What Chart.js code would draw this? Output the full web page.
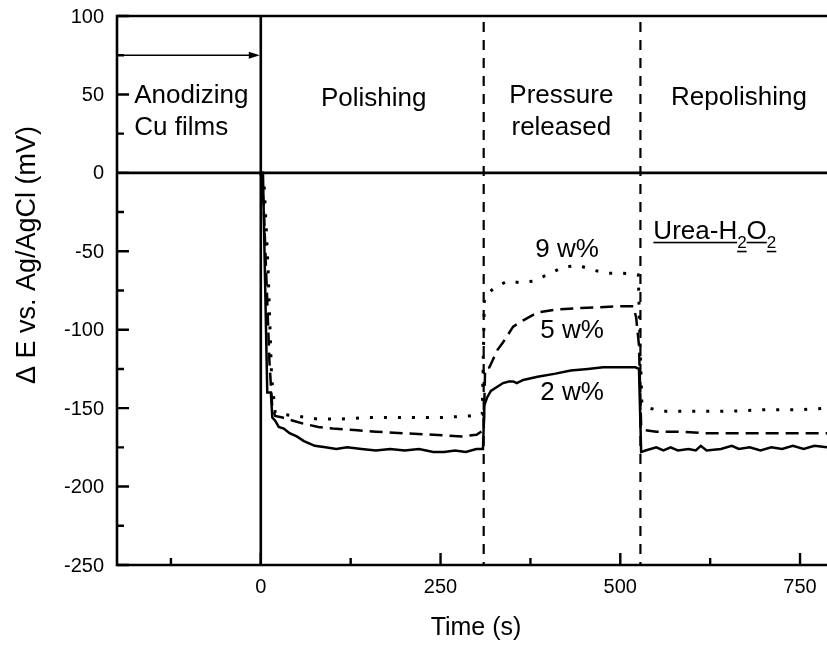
<!DOCTYPE html>
<html>
<head>
<meta charset="utf-8">
<script src="https://cdn.jsdelivr.net/npm/chart.js@4.4.0/dist/chart.umd.min.js"></script>
<style>
  body { margin: 0; background: #fff; }
  #wrap { width: 827px; height: 647px; }
</style>
</head>
<body>
<div id="wrap"><canvas id="potChart"></canvas></div>
<script>
// Potential transients during polishing, per urea-H2O2 content

// 2 w% (solid)
const t2 = [0, 3, 9, 14, 16, 20, 25, 32, 40, 50, 60, 75, 90, 105, 120, 140, 160, 180, 200, 220, 240, 255, 270, 285, 300, 309,
  311, 315, 320, 330, 337, 345, 351, 356, 365, 385, 410, 431, 455, 476, 500, 521, 526,
  529, 535, 550, 560, 570, 580, 595, 605, 612, 620, 640, 655, 665, 680, 695, 710, 725, 740, 755, 770, 787.5];
const v2 = [0, 0, -140, -140, -156, -158, -162, -163, -166, -168, -171, -174, -175, -176, -175, -176, -177, -176, -177, -176, -178, -178, -177, -178, -176, -176,
  -148, -143, -139, -136, -134, -133, -133, -134, -132, -130, -128, -126, -125, -124, -124, -124, -125,
  -178, -177, -175, -177, -175, -177, -176, -177, -174, -177, -176, -174, -176, -175, -177, -175, -176, -174, -176, -174, -175];

// 5 w% (dashed)
const t5 = [0, 4, 8, 12, 16, 20, 30, 45, 60, 80, 100, 130, 160, 200, 240, 280, 300, 310,
  312, 318, 322, 329, 337, 351, 365, 385, 412, 454, 500, 518, 522, 526,
  529, 535, 550, 580, 620, 660, 700, 740, 787.5];
const v5 = [0, -20, -70, -120, -150, -155, -156, -158, -160, -162, -163, -164, -165, -166, -167, -168, -167, -164,
  -125, -124, -120, -113, -108, -98, -94, -89, -87, -86, -85, -85, -92, -110,
  -162, -164, -165, -165, -166, -166, -166, -166, -166];

// 9 w% (dotted)
const t9 = [0, 5, 10, 15, 20, 30, 50, 80, 110, 150, 200, 250, 290, 308,
  311, 318, 326, 343, 361, 379, 403, 421, 442, 462, 482, 504, 525, 527,
  530, 540, 560, 600, 650, 700, 750, 787.5];
const v9 = [0, -10, -60, -130, -153, -154, -155, -157, -157, -156, -156, -156, -155, -154,
  -80, -76, -73, -69, -70, -69, -64, -60, -59, -62, -64, -64, -65, -100,
  -147, -150, -152, -152, -152, -151, -151, -150];

// axis ticks
const xTicks = [0, 250, 500, 750];
const xMinor = [-125, 125, 375, 625];
const yTicks = [-250, -200, -150, -100, -50, 0, 50, 100];
const yMinor = [-225, -175, -125, -75, -25, 25, 75];

// stage boundaries (s)
const stageLines = [310, 528];

const FONT = '"Liberation Sans", Arial, Helvetica, sans-serif';
const pts = (ts, vs) => ts.map((t, i) => ({ x: t, y: vs[i] }));

const decor = {
  id: 'decor',
  afterDraw(chart) {
    const { ctx, chartArea: a, scales: { x, y } } = chart;
    const X = v => x.getPixelForValue(v);
    const Y = v => y.getPixelForValue(v);
    ctx.save();
    ctx.strokeStyle = '#000';
    ctx.fillStyle = '#000';

    // frame: left, bottom, top
    ctx.lineWidth = 2.6;
    ctx.beginPath();
    ctx.moveTo(a.right, a.top); ctx.lineTo(a.left, a.top);
    ctx.lineTo(a.left, a.bottom); ctx.lineTo(a.right, a.bottom);
    ctx.stroke();

    // zero lines
    ctx.beginPath();
    ctx.moveTo(a.left, Y(0)); ctx.lineTo(a.right, Y(0));
    ctx.moveTo(X(0), a.top); ctx.lineTo(X(0), a.bottom);
    ctx.stroke();

    // dashed stage boundaries
    ctx.lineWidth = 2.2;
    ctx.setLineDash([10, 8]);
    stageLines.forEach(t => {
      ctx.beginPath();
      ctx.moveTo(X(t), a.top + 6); ctx.lineTo(X(t), a.bottom);
      ctx.stroke();
    });
    ctx.setLineDash([]);

    // inward ticks
    ctx.lineWidth = 2.4;
    ctx.beginPath();
    yTicks.forEach(v => { ctx.moveTo(a.left, Y(v)); ctx.lineTo(a.left + 12, Y(v)); });
    yMinor.forEach(v => { ctx.moveTo(a.left, Y(v)); ctx.lineTo(a.left + 7, Y(v)); });
    xTicks.forEach(v => { ctx.moveTo(X(v), a.bottom); ctx.lineTo(X(v), a.bottom - 12); });
    xMinor.forEach(v => { ctx.moveTo(X(v), a.bottom); ctx.lineTo(X(v), a.bottom - 7); });
    ctx.stroke();

    // anodizing arrow
    const ay = Y(75);
    ctx.lineWidth = 1.6;
    ctx.beginPath();
    ctx.moveTo(a.left, ay); ctx.lineTo(X(0) - 8, ay);
    ctx.stroke();
    ctx.beginPath();
    ctx.moveTo(X(0) - 1, ay); ctx.lineTo(X(0) - 12, ay - 3.5); ctx.lineTo(X(0) - 12, ay + 3.5);
    ctx.closePath(); ctx.fill();

    // tick labels
    ctx.font = '20px ' + FONT;
    ctx.textAlign = 'right'; ctx.textBaseline = 'middle';
    yTicks.forEach(v => ctx.fillText(String(v), a.left - 13, Y(v) + 1));
    ctx.textAlign = 'center';
    xTicks.forEach(v => ctx.fillText(String(v), X(v), a.bottom + 22));

    // axis titles
    ctx.font = '25px ' + FONT;
    ctx.fillText('Time (s)', (a.left + a.right) / 2 + 4, a.bottom + 63);
    ctx.save();
    ctx.translate(28, 255);
    ctx.rotate(-Math.PI / 2);
    ctx.font = '27px ' + FONT;
    ctx.fillText('\u0394 E vs. Ag/AgCl (mV)', 0, 0);
    ctx.restore();

    // stage and series labels
    ctx.font = '26px ' + FONT;
    ctx.textBaseline = 'alphabetic';
    ctx.textAlign = 'left';
    ctx.fillText('Anodizing', X(-176), Y(44.6));
    ctx.fillText('Cu films', X(-176), Y(24.2));
    ctx.textAlign = 'center';
    ctx.fillText('Polishing', X(157), Y(42.7));
    ctx.fillText('Pressure', X(418), Y(44.6));
    ctx.fillText('released', X(418), Y(24.2));
    ctx.fillText('Repolishing', X(665), Y(43.3));
    ctx.fillText('9 w%', X(426), Y(-53.5));
    ctx.fillText('5 w%', X(433), Y(-105));
    ctx.fillText('2 w%', X(433), Y(-145));

    // Urea-H2O2, underlined
    ctx.textAlign = 'left';
    let ux = X(546);
    const ub = Y(-42);
    const parts = [['Urea-H', 0], ['2', 1], ['O', 0], ['2', 1]];
    parts.forEach(([s, sub]) => {
      ctx.font = (sub ? '17px ' : '26px ') + FONT;
      const w = ctx.measureText(s).width;
      const by = sub ? ub + 9 : ub;
      ctx.fillText(s, ux, by);
      ctx.fillRect(ux, by + 3, w, 1.6);
      ux += w;
    });

    ctx.restore();
  }
};

const ctx = document.getElementById('potChart').getContext('2d');
new Chart(ctx, {
  type: 'line',
  data: {
    datasets: [
      { label: '2 w%', data: pts(t2, v2), borderColor: '#000', borderWidth: 2.5, pointRadius: 0, tension: 0, fill: false },
      { label: '5 w%', data: pts(t5, v5), borderColor: '#000', borderWidth: 2.5, borderDash: [13, 7], pointRadius: 0, tension: 0, fill: false },
      { label: '9 w%', data: pts(t9, v9), borderColor: '#000', borderWidth: 3, borderDash: [3, 11], pointRadius: 0, tension: 0, fill: false },
    ]
  },
  options: {
    responsive: true, maintainAspectRatio: false,
    animation: false,
    layout: { padding: { top: 16, right: 0, left: 0, bottom: 0 } },
    plugins: { legend: { display: false }, tooltip: { enabled: false } },
    scales: {
      x: {
        type: 'linear', min: -200, max: 787.5,
        ticks: { display: false, stepSize: 250, includeBounds: false },
        grid: { display: false }, border: { display: false },
        afterFit: s => { s.height = 82; }
      },
      y: {
        min: -250, max: 100,
        ticks: { display: false, stepSize: 50 },
        grid: { display: false }, border: { display: false },
        afterFit: s => { s.width = 117; }
      }
    }
  },
  plugins: [decor]
});
</script>
</body>
</html>
